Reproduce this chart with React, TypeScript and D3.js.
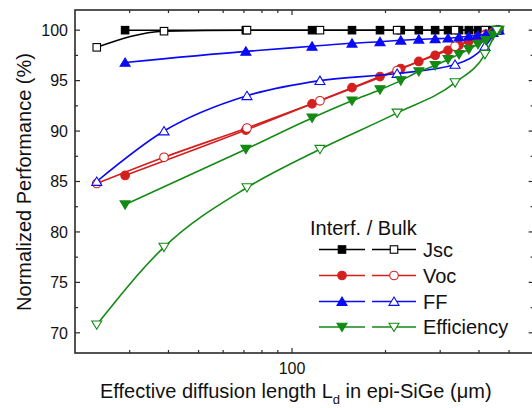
import React from "react";
import * as d3 from "d3";

const xFilled = [29, 71, 116, 156, 192, 224, 256, 289, 318, 345, 371, 397, 421, 444, 464];
const xOpen = [23.5, 38.7, 71.6, 123, 218, 335, 418, 457];

const jscFilled = [100, 100, 100, 100, 100, 100, 100, 100, 100, 100, 100, 100, 100, 100, 100];
const jscOpen = [98.3, 99.9, 100, 100, 100, 100, 100, 100];
const vocFilled = [85.6, 90.1, 92.7, 94.3, 95.4, 96.2, 96.9, 97.5, 98.0, 98.5, 98.9, 99.3, 99.6, 99.8, 100];
const vocOpen = [84.8, 87.4, 90.3, 93.0, 96.0, 98.4, 99.5, 100];
const ffFilled = [96.8, 97.9, 98.4, 98.7, 98.85, 99.0, 99.1, 99.15, 99.2, 99.3, 99.4, 99.5, 99.6, 99.75, 100];
const ffOpen = [85.0, 90.0, 93.5, 95.0, 95.7, 96.6, 98.4, 100];
const effFilled = [82.7, 88.2, 91.3, 93.0, 94.1, 95.0, 95.9, 96.5, 97.1, 97.6, 98.1, 98.6, 99.0, 99.5, 100];
const effOpen = [70.8, 78.5, 84.4, 88.2, 91.8, 94.8, 97.6, 100];

const seriesNames = ["Jsc", "Voc", "FF", "Efficiency"];
const legendTitle = "Interf. / Bulk";
const yTicks = [70, 75, 80, 85, 90, 95, 100];
const xMajorTicks = [100];

const W = 532;
const H = 408;
const FONT = "'Liberation Sans', Arial, Helvetica, sans-serif";

const x = d3.scaleLog().domain([20, 600]).range([75, 75 + Math.log10(30) * 310.5]);
const y = d3.scaleLinear().domain([68, 102]).range([353, 10]);

type Shape = "square" | "circle" | "up" | "down";

function Marker({ cx, cy, shape, color, filled }: { cx: number; cy: number; shape: Shape; color: string; filled: boolean }) {
  const fill = filled ? color : "#fff";
  const sw = 1.1;
  if (shape === "square") {
    const s = 7.5;
    return <rect x={cx - s / 2} y={cy - s / 2} width={s} height={s} fill={fill} stroke={color} strokeWidth={sw} />;
  }
  if (shape === "circle") {
    return <circle cx={cx} cy={cy} r={4.3} fill={fill} stroke={color} strokeWidth={sw} />;
  }
  const w = 5;
  const h = 4.5;
  if (shape === "up") {
    return (
      <path
        d={`M${cx},${cy - h} L${cx + w},${cy + h * 0.85} L${cx - w},${cy + h * 0.85} Z`}
        fill={fill}
        stroke={color}
        strokeWidth={sw}
      />
    );
  }
  return (
    <path
      d={`M${cx},${cy + h} L${cx + w},${cy - h * 0.85} L${cx - w},${cy - h * 0.85} Z`}
      fill={fill}
      stroke={color}
      strokeWidth={sw}
    />
  );
}

const colors = ["#000000", "#d41f1f", "#0a0af5", "#138a13"];
const shapes: Shape[] = ["square", "circle", "up", "down"];
const filledData = [jscFilled, vocFilled, ffFilled, effFilled];
const openData = [jscOpen, vocOpen, ffOpen, effOpen];

export default function App() {
  const line = d3
    .line<[number, number]>()
    .x((d) => x(d[0]))
    .y((d) => y(d[1]))
    .curve(d3.curveMonotoneX);

  const left = 75;
  const right = x.range()[1];
  const top = 10;
  const bottom = 353;

  const xMinor: number[] = [];
  for (const dec of [10, 100]) {
    for (let k = 2; k <= 9; k++) {
      const v = k * dec;
      if (v > 20 && v < 600 && v !== 100) xMinor.push(v);
    }
  }
  const yMinor: number[] = [];
  for (let v = 70; v <= 102; v += 2.5) {
    if (v % 5 !== 0) yMinor.push(v);
  }

  const axisColor = "#2a2a2a";

  const legendRowsY = [249.5, 275.5, 301.5, 327];

  return (
    <svg width={W} height={H} style={{ position: "absolute", left: 0, top: 0, background: "#fff" }} fontFamily={FONT}>
      <rect x={0} y={0} width={W} height={H} fill="#fff" />
      {/* series */}
      {seriesNames.map((name, i) => {
        const fPts: [number, number][] = xFilled.map((xv, j) => [xv, filledData[i][j]]);
        const oPts: [number, number][] = xOpen.map((xv, j) => [xv, openData[i][j]]);
        return (
          <g key={name}>
            <path d={line(fPts) || ""} fill="none" stroke={colors[i]} strokeWidth={1.6} />
            <path d={line(oPts) || ""} fill="none" stroke={colors[i]} strokeWidth={1.6} />
            {fPts.map((p, j) => (
              <Marker key={"f" + j} cx={x(p[0])} cy={y(p[1])} shape={shapes[i]} color={colors[i]} filled={true} />
            ))}
            {oPts.map((p, j) => (
              <Marker key={"o" + j} cx={x(p[0])} cy={y(p[1])} shape={shapes[i]} color={colors[i]} filled={false} />
            ))}
          </g>
        );
      })}

      {/* frame */}
      <rect x={left} y={top} width={right - left} height={bottom - top} fill="none" stroke={axisColor} strokeWidth={1.6} />

      {/* y ticks */}
      {yTicks.map((t) => (
        <g key={"yt" + t}>
          <line x1={left} x2={left + 5} y1={y(t)} y2={y(t)} stroke={axisColor} strokeWidth={1.2} />
          <line x1={right} x2={right - 5} y1={y(t)} y2={y(t)} stroke={axisColor} strokeWidth={1.2} />
          <text x={68} y={y(t)} dy="0.36em" textAnchor="end" fontSize={16} fill="#111">
            {t}
          </text>
        </g>
      ))}
      {yMinor.map((t) => (
        <g key={"ym" + t}>
          <line x1={left} x2={left + 3} y1={y(t)} y2={y(t)} stroke={axisColor} strokeWidth={1.2} />
          <line x1={right} x2={right - 3} y1={y(t)} y2={y(t)} stroke={axisColor} strokeWidth={1.2} />
        </g>
      ))}

      {/* x ticks */}
      {xMajorTicks.map((t) => (
        <g key={"xt" + t}>
          <line x1={x(t)} x2={x(t)} y1={bottom} y2={bottom - 5} stroke={axisColor} strokeWidth={1.2} />
          <line x1={x(t)} x2={x(t)} y1={top} y2={top + 5} stroke={axisColor} strokeWidth={1.2} />
          <text x={x(t)} y={374} textAnchor="middle" fontSize={16} fill="#111">
            {t}
          </text>
        </g>
      ))}
      {xMinor.map((t) => (
        <g key={"xm" + t}>
          <line x1={x(t)} x2={x(t)} y1={bottom} y2={bottom - 3} stroke={axisColor} strokeWidth={1.2} />
          <line x1={x(t)} x2={x(t)} y1={top} y2={top + 3} stroke={axisColor} strokeWidth={1.2} />
        </g>
      ))}

      {/* axis labels */}
      <text transform="translate(31,182) rotate(-90)" textAnchor="middle" fontSize={20} fill="#111">
        Normalized Performance (%)
      </text>
      <text x={100} y={398} fontSize={20} fill="#111">
        Effective diffusion length L
        <tspan fontSize={13} dy={6}>d</tspan>
        <tspan dy={-6}> in epi-SiGe (μm)</tspan>
      </text>

      {/* legend */}
      <text x={310} y={235} fontSize={20} fill="#111">
        {legendTitle}
      </text>
      {seriesNames.map((name, i) => {
        const ly = legendRowsY[i];
        return (
          <g key={"lg" + name}>
            <line x1={319} x2={365} y1={ly} y2={ly} stroke={colors[i]} strokeWidth={1.6} />
            <Marker cx={342} cy={ly} shape={shapes[i]} color={colors[i]} filled={true} />
            <line x1={372} x2={416} y1={ly} y2={ly} stroke={colors[i]} strokeWidth={1.6} />
            <Marker cx={394} cy={ly} shape={shapes[i]} color={colors[i]} filled={false} />
            <text x={423} y={ly} dy="0.36em" fontSize={20} fill="#111">
              {name}
            </text>
          </g>
        );
      })}
    </svg>
  );
}
